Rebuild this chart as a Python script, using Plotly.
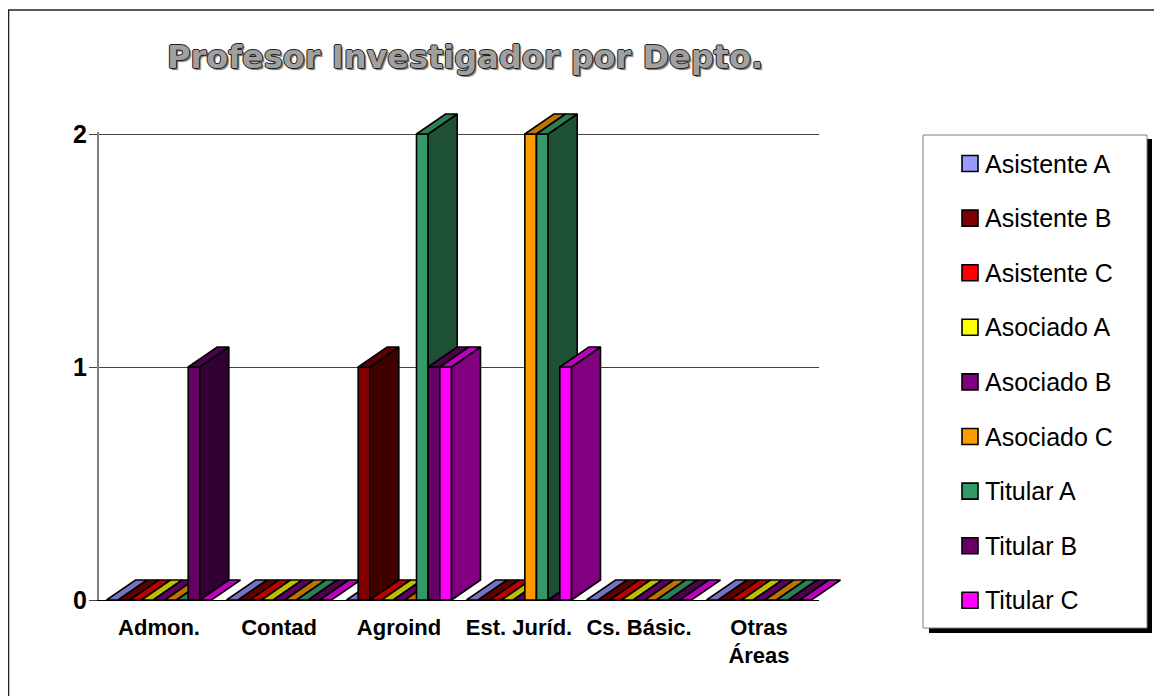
import plotly.graph_objects as go

# the page keeps its default 8px body margin, so the figure is that much smaller
# than the picture and all pixel positions below are picture pixels
PAGE_W, PAGE_H = 1162, 696
BODY = 8
W, H = PAGE_W - BODY, PAGE_H - BODY

DEPTOS = ['Admon.', 'Contad', 'Agroind', 'Est. Juríd.', 'Cs. Básic.', 'Otras<br>Áreas']
SERIES = ['Asistente A', 'Asistente B', 'Asistente C', 'Asociado A', 'Asociado B',
          'Asociado C', 'Titular A', 'Titular B', 'Titular C']

ASISTENTE_A = [0, 0, 0, 0, 0, 0]
ASISTENTE_B = [0, 0, 1, 0, 0, 0]
ASISTENTE_C = [0, 0, 0, 0, 0, 0]
ASOCIADO_A = [0, 0, 0, 0, 0, 0]
ASOCIADO_B = [0, 0, 0, 0, 0, 0]
ASOCIADO_C = [0, 0, 0, 2, 0, 0]
TITULAR_A = [0, 0, 2, 2, 0, 0]
TITULAR_B = [1, 0, 1, 0, 0, 0]
TITULAR_C = [0, 0, 1, 1, 0, 0]
VALUES = [ASISTENTE_A, ASISTENTE_B, ASISTENTE_C, ASOCIADO_A, ASOCIADO_B,
          ASOCIADO_C, TITULAR_A, TITULAR_B, TITULAR_C]

FRONT = ['#9999ff', '#800000', '#ff0000', '#ffff00', '#800080', '#ff9900', '#339966', '#660066', '#ff00ff']
TOP = ['#7373bf', '#600000', '#bf0000', '#bfbf00', '#600060', '#bf7300', '#2b7f55', '#4d004d', '#bf00bf']
SIDE = ['#4d4d80', '#400000', '#800000', '#808000', '#400040', '#804d00', '#1d5035', '#330033', '#800080']

# pixel frame of the main plot
X0, X1 = 99, 819
Y_ZERO, Y_TWO = 600, 134
PX_PER_CAT = (X1 - X0) / len(DEPTOS)
PX_PER_UNIT = (Y_ZERO - Y_TWO) / 2
Y_TOP = 2.01  # a hair over 2, plotly drops a gridline sitting right on the axis end

# fake 3d geometry, in axis units
GROUP_W = 105 / PX_PER_CAT
BAR_W = GROUP_W / len(SERIES)
DX = 29 / PX_PER_CAT
DY = 20 / PX_PER_UNIT


def px(x):
    return (x - BODY) / W


def py(y):
    return 1 - (y - BODY) / H


fig = go.Figure()


def face(xs, ys, color):
    fig.add_trace(go.Scatter(
        x=xs + xs[:1], y=ys + ys[:1], xaxis='x2', yaxis='y2',
        mode='lines', fill='toself', fillcolor=color,
        line=dict(color='#000000', width=1.6),
        hoverinfo='skip', showlegend=False,
    ))


# bars are painted left to right so each one covers the side of the last
for c in range(len(DEPTOS)):
    for s in range(len(SERIES)):
        v = VALUES[s][c]
        x = c - GROUP_W / 2 + s * BAR_W
        if v > 0:
            face([x, x + BAR_W, x + BAR_W, x], [0, 0, v, v], FRONT[s])
            face([x + BAR_W, x + BAR_W + DX, x + BAR_W + DX, x + BAR_W],
                 [0, DY, v + DY, v], SIDE[s])
        face([x, x + BAR_W, x + BAR_W + DX, x + DX], [v, v, v + DY, v + DY], TOP[s])

# empty trace keeps the main axes alive underneath the bars
fig.add_trace(go.Scatter(x=[0], y=[0], mode='markers', marker=dict(opacity=0),
                         hoverinfo='skip', showlegend=False))

shapes = [
    # outer chart border runs off the right and bottom of the picture
    dict(type='rect', xref='paper', yref='paper', x0=px(8.5), x1=px(PAGE_W + 10),
         y0=py(PAGE_H + 10), y1=py(10),
         line=dict(color='#222222', width=1.6)),
    # legend box and its shadow
    dict(type='rect', xref='paper', yref='paper', x0=px(929), x1=px(1152), y0=py(633), y1=py(139),
         fillcolor='#000000', line=dict(width=0)),
    dict(type='rect', xref='paper', yref='paper', x0=px(923), x1=px(1147), y0=py(628), y1=py(135),
         fillcolor='#ffffff', line=dict(color='#808080', width=1)),
]
annotations = []
for i, name in enumerate(SERIES):
    yc = 163.5 + i * 54.6
    shapes.append(dict(type='rect', xref='paper', yref='paper', x0=px(962), x1=px(978),
                       y0=py(yc + 8), y1=py(yc - 8), fillcolor=FRONT[i],
                       line=dict(color='#000000', width=1.6)))
    annotations.append(dict(xref='paper', yref='paper', x=px(983), y=py(yc), text=name,
                            xanchor='left', yanchor='middle', showarrow=False,
                            font=dict(family='Liberation Sans', size=25, color='#000000')))

fig.update_layout(
    width=W, height=H,
    margin=dict(l=0, r=0, t=0, b=0, autoexpand=False),
    paper_bgcolor='#ffffff',
    plot_bgcolor='rgba(0,0,0,0)',
    showlegend=False,
    title=dict(
        text='<b>Profesor Investigador por Depto.</b>',
        x=px(465), xanchor='center', xref='container',
        y=py(57), yanchor='middle', yref='container',
        font=dict(family='DejaVu Sans', size=32, color='#a0a0a0',
                  shadow='-1px 0 #222, 1px 0 #222, 0 -1px #222, 0 1px #222, 2px 2px 1px #777'),
    ),
    xaxis=dict(
        domain=[px(X0), px(X1)], range=[-0.5, len(DEPTOS) - 0.5],
        tickmode='array', tickvals=list(range(len(DEPTOS))), ticktext=DEPTOS,
        showgrid=False, zeroline=False, ticks='', ticklabelstandoff=7,
        showline=True, linecolor='#000000', linewidth=1.3,
        tickfont=dict(family='Liberation Sans', size=22, color='#000000', weight='bold'),
    ),
    yaxis=dict(
        domain=[py(Y_ZERO), py(Y_ZERO - Y_TOP * PX_PER_UNIT)], range=[0, Y_TOP],
        tickmode='array', tickvals=[0, 1, 2],
        showgrid=True, gridcolor='#444444', gridwidth=1, zeroline=False,
        ticks='outside', ticklen=8, ticklabelstandoff=-3, tickcolor='#444444', tickwidth=1,
        showline=True, linecolor='#808080', linewidth=2,
        tickfont=dict(family='Liberation Sans', size=25, color='#000000', weight='bold'),
    ),
    # second axis pair covers the whole figure on the same scale, so the depth faces are not clipped
    xaxis2=dict(domain=[0, 1], anchor='y2', visible=False,
                range=[-0.5 - (X0 - BODY) / PX_PER_CAT, len(DEPTOS) - 0.5 + (PAGE_W - X1) / PX_PER_CAT]),
    yaxis2=dict(domain=[0, 1], anchor='x2', visible=False,
                range=[-(PAGE_H - Y_ZERO) / PX_PER_UNIT, (Y_ZERO - BODY) / PX_PER_UNIT]),
    shapes=shapes,
    annotations=annotations,
)

fig.write_html("out.html")
